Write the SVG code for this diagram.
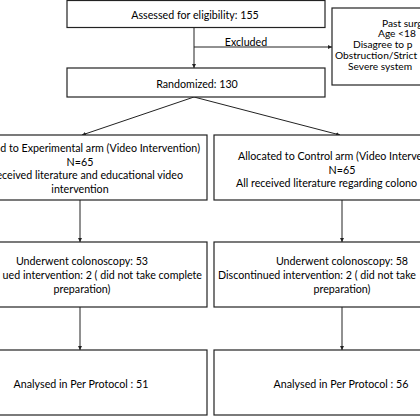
<svg xmlns="http://www.w3.org/2000/svg" width="420" height="420" viewBox="0 0 420 420">
<style>
.box{fill:#fff;stroke:#222;stroke-width:1.2}
.t{font-family:Lato,"Liberation Sans",sans-serif;font-size:10.7px;fill:#000}
.x{font-size:10.2px}
.c{text-anchor:middle}
.e{text-anchor:end}
.s{text-anchor:start}
.ln{stroke:#222;stroke-width:1;fill:none}
</style>
<defs>
<marker id="ah" viewBox="0 0 6 6" refX="6" refY="3" markerWidth="4" markerHeight="4" orient="auto" markerUnits="userSpaceOnUse">
<path d="M0,0 L6,3 L0,6 Z" fill="#222"/>
</marker>
</defs>
<rect width="420" height="420" fill="#fff"/>
<g id="connectors">
<line class="ln" x1="194" y1="27" x2="194" y2="68" marker-end="url(#ah)"/>
<line class="ln" x1="194" y1="47" x2="332" y2="47" marker-end="url(#ah)"/>
<line class="ln" x1="194" y1="97" x2="82" y2="135" marker-end="url(#ah)"/>
<line class="ln" x1="194" y1="97" x2="340" y2="135" marker-end="url(#ah)"/>
<line class="ln" x1="80" y1="200" x2="80" y2="242" marker-end="url(#ah)"/>
<line class="ln" x1="342" y1="200" x2="342" y2="242" marker-end="url(#ah)"/>
<line class="ln" x1="80" y1="307" x2="80" y2="350" marker-end="url(#ah)"/>
<line class="ln" x1="342" y1="307" x2="342" y2="350" marker-end="url(#ah)"/>
<text class="t c" x="246" y="45.5">Excluded</text>
</g>
<g id="assessed">
<rect class="box" x="67" y="0.5" width="258" height="27"/>
<text class="t c" x="195" y="18.5">Assessed for eligibility: 155</text>
</g>
<g id="excluded">
<rect class="box" x="332" y="8" width="120" height="77"/>
<text class="t x s" x="382" y="26.5">Past surg</text>
<text class="t x s" x="378" y="37.3">Age &lt;18</text>
<text class="t x s" x="353" y="48.1">Disagree to p</text>
<text class="t x s" x="335" y="58.9">Obstruction/Strict</text>
<text class="t x s" x="348" y="69.7">Severe system</text>
</g>
<g id="randomized">
<rect class="box" x="67" y="68" width="258" height="29"/>
<text class="t c" x="197" y="87.5">Randomized: 130</text>
</g>
<g id="experimental">
<rect class="box" x="-43" y="135" width="250" height="65"/>
<text class="t e" x="200" y="152">d to Experimental arm (Video Intervention)</text>
<text class="t c" x="80" y="165.5">N=65</text>
<text class="t e" x="183" y="179">eceived literature and educational video</text>
<text class="t c" x="80" y="192.5">intervention</text>
</g>
<g id="control">
<rect class="box" x="214" y="135" width="256" height="65"/>
<text class="t s" x="238" y="160">Allocated to Control arm (Video Interve</text>
<text class="t c" x="342" y="173.5">N=65</text>
<text class="t s" x="236" y="187">All received literature regarding colono</text>
</g>
<g id="exp-colonoscopy">
<rect class="box" x="-43" y="242" width="250" height="65"/>
<text class="t c" x="82" y="265">Underwent colonoscopy: 53</text>
<text class="t e" x="202" y="279">ued intervention: 2 ( did not take complete</text>
<text class="t c" x="82" y="292.5">preparation)</text>
</g>
<g id="ctl-colonoscopy">
<rect class="box" x="214" y="242" width="256" height="65"/>
<text class="t c" x="342" y="265">Underwent colonoscopy: 58</text>
<text class="t s" x="218" y="279">Discontinued intervention: 2 ( did not take</text>
<text class="t c" x="342" y="292.5">preparation)</text>
</g>
<g id="exp-analysed">
<rect class="box" x="-43" y="350" width="250" height="65"/>
<text class="t c" x="81" y="388">Analysed in Per Protocol : 51</text>
</g>
<g id="ctl-analysed">
<rect class="box" x="214" y="350" width="256" height="65"/>
<text class="t c" x="341" y="388">Analysed in Per Protocol : 56</text>
</g>
</svg>
